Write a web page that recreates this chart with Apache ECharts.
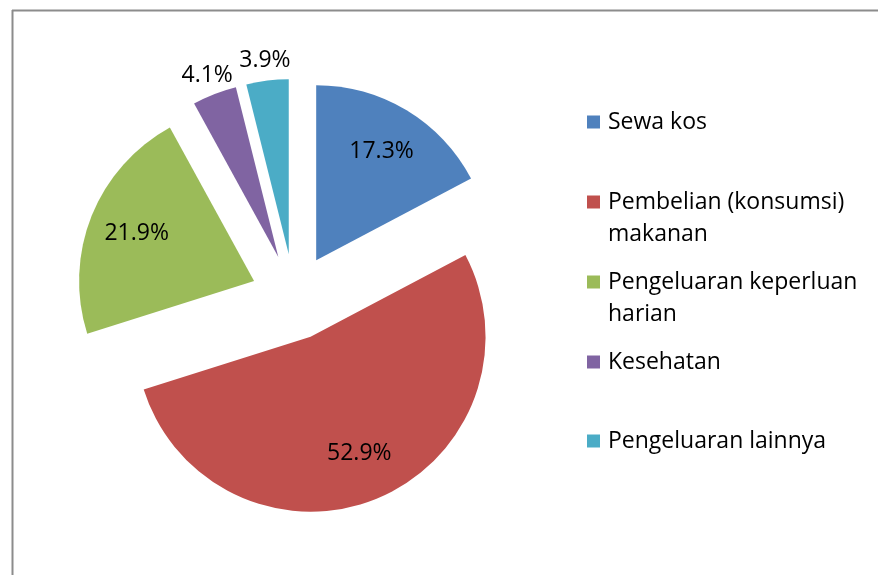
<!DOCTYPE html>
<html>
<head>
<meta charset="utf-8">
<script src="https://cdn.jsdelivr.net/npm/echarts@6/dist/echarts.min.js"></script>
<style>
  html, body { margin: 0; padding: 0; background: #fff; }
  #chart { width: 878px; height: 575px; }
</style>
</head>
<body>
<div id="chart"></div>
<script>
// data
const categories = [
  "Sewa kos",
  "Pembelian (konsumsi) makanan",
  "Pengeluaran keperluan harian",
  "Kesehatan",
  "Pengeluaran lainnya"
];
// the empty first line keeps the legend square beside the first text line
const legendText = [
  "Sewa kos",
  "\nPembelian (konsumsi)\nmakanan",
  "\nPengeluaran keperluan\nharian",
  "Kesehatan",
  "Pengeluaran lainnya"
];
const percents = [17.3, 52.9, 21.9, 4.1, 3.9];
const colors = ["#4F81BD", "#C0504D", "#9BBB59", "#8064A2", "#4BACC6"];

const font = "'Open Sans', sans-serif";
const center = [294, 297];
const R = 175;
const offset = 43;

const chart = echarts.init(document.getElementById("chart"));

const slices = categories.map((name, i) => ({ name: name, value: percents[i], selected: true }));

const labelStyle = {
  color: "#000",
  fontSize: 23,
  fontFamily: font,
  formatter: "{c}%"
};

const baseSeries = {
  type: "pie",
  center: center,
  startAngle: 90,
  clockwise: true,
  selectedMode: "multiple",
  selectedOffset: offset,
  silent: true,
  emphasis: { disabled: true },
  labelLine: { show: false },
  labelLayout: { hideOverlap: false },
  avoidLabelOverlap: false
};

// icon centre of each legend row (first text line)
const legendRows = [122, 202, 282, 362, 441];

const legends = categories.map((name, i) => {
  const twoLine = legendText[i].indexOf("\n") >= 0;
  return {
    data: [name],
    orient: "vertical",
    left: 587,
    top: twoLine ? legendRows[i] - 48 : legendRows[i] - 16,
    padding: 0,
    icon: "rect",
    itemWidth: 13,
    itemHeight: 13,
    selectedMode: false,
    formatter: () => legendText[i],
    textStyle: {
      color: "#000",
      fontSize: 23,
      lineHeight: 32,
      fontFamily: font,
      padding: [0, 0, 0, 3]
    }
  };
});

chart.setOption({
  animation: false,
  backgroundColor: "#fff",
  color: colors,
  legend: legends,
  graphic: [
    { type: "line", shape: { x1: 12.5, y1: 10, x2: 12.5, y2: 575 }, style: { stroke: "#8c8c8c", lineWidth: 2 } },
    { type: "line", shape: { x1: 12, y1: 10.5, x2: 878, y2: 10.5 }, style: { stroke: "#8c8c8c", lineWidth: 2 } }
  ],
  series: [
    Object.assign({}, baseSeries, {
      name: "main",
      radius: [0, R],
      label: { show: false },
      data: slices
    }),
    // transparent ring carrying the labels inside the big slices
    Object.assign({}, baseSeries, {
      name: "innerLabels",
      radius: [72, R],
      itemStyle: { color: "transparent" },
      label: Object.assign({ position: "inside" }, labelStyle),
      data: slices.map((d) => Object.assign({}, d, { label: { show: d.value > 10 } }))
    }),
    // transparent ring carrying the labels outside the small slices
    // (drawn the other way round, same geometry)
    Object.assign({}, baseSeries, {
      name: "outerLabels",
      radius: [180, 204],
      clockwise: false,
      itemStyle: { color: "transparent" },
      label: Object.assign({ position: "inside", width: 24, overflow: "none", align: "center" }, labelStyle),
      data: slices.slice().reverse().map((d) => Object.assign({}, d, { label: { show: d.value < 10 } }))
    })
  ]
});
</script>
</body>
</html>
